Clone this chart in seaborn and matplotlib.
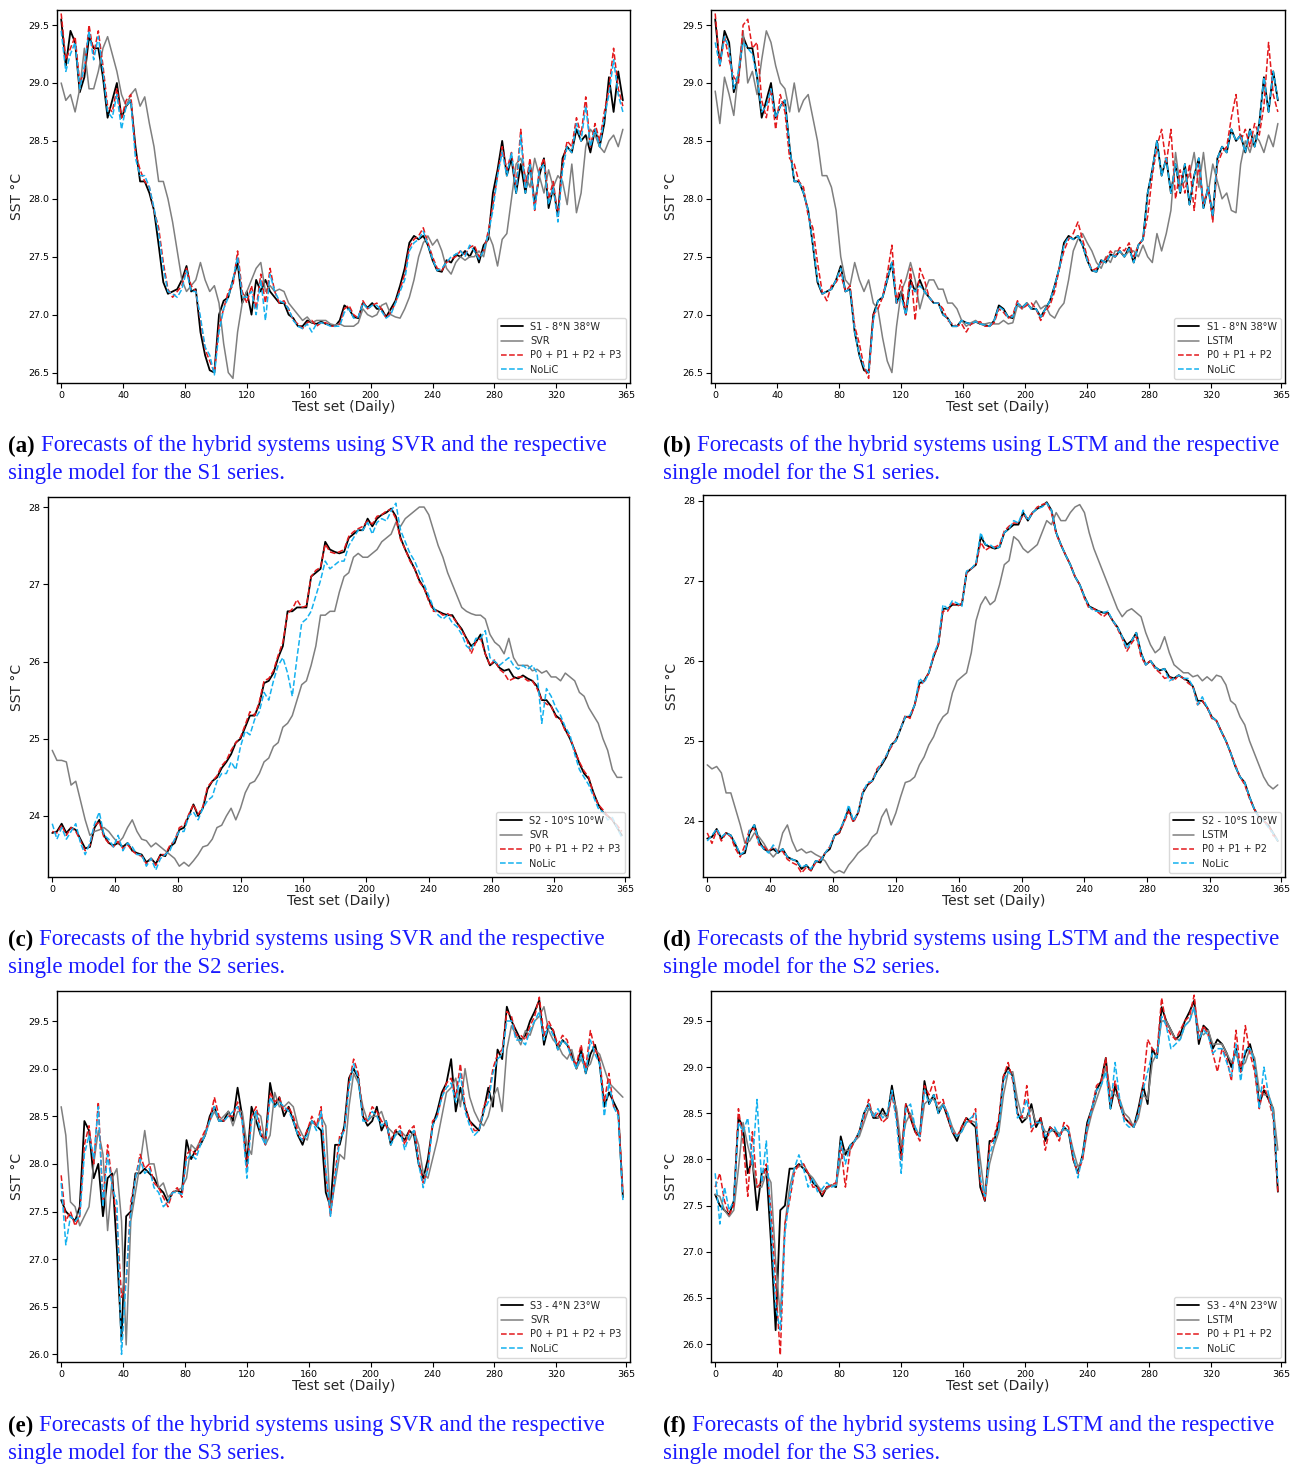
import numpy as np
import matplotlib
matplotlib.use("Agg")
import matplotlib.pyplot as plt
import seaborn as sns

# ---------------- data (daily SST, sampled every 3 days of the test year) ----------------
DAYS = np.arange(0, 366, 3)
XTICKS = [0, 40, 80, 120, 160, 200, 240, 280, 320, 365]

# S1 - 8N 38W
S1_OBS = [29.55, 29.15, 29.45, 29.35, 28.92, 29.05, 29.4, 29.3, 29.3, 29.05,
          28.7, 28.85, 29.0, 28.7, 28.8, 28.85, 28.45, 28.15, 28.15, 28.05,
          27.9, 27.6, 27.28, 27.18, 27.2, 27.22, 27.3, 27.42, 27.2, 27.22,
          26.85, 26.65, 26.52, 26.5, 27.0, 27.12, 27.15, 27.3, 27.45, 27.1,
          27.2, 27.0, 27.3, 27.2, 27.3, 27.2, 27.15, 27.1, 27.1, 27.0,
          26.97, 26.9, 26.9, 26.95, 26.93, 26.92, 26.94, 26.92, 26.91, 26.9,
          26.95, 27.08, 27.05, 26.98, 26.97, 27.1, 27.06, 27.1, 27.05, 27.05,
          26.98, 27.05, 27.12, 27.25, 27.4, 27.62, 27.68, 27.65, 27.68, 27.6,
          27.47, 27.38, 27.37, 27.47, 27.45, 27.52, 27.5, 27.55, 27.5, 27.58,
          27.45, 27.6, 27.65, 28.05, 28.25, 28.5, 28.2, 28.35, 28.05, 28.3,
          28.05, 28.3, 27.95, 28.2, 28.35, 27.92, 28.1, 27.85, 28.35, 28.45,
          28.4, 28.6, 28.5, 28.55, 28.4, 28.6, 28.45, 28.65, 29.05, 28.75,
          29.1, 28.85]
S1_SVR = [29.0, 28.85, 28.9, 28.75, 28.95, 29.3, 28.95, 28.95, 29.1, 29.3,
          29.4, 29.25, 29.1, 28.9, 28.8, 28.9, 28.95, 28.8, 28.88, 28.65,
          28.45, 28.15, 28.15, 28.0, 27.8, 27.55, 27.3, 27.2, 27.25, 27.3,
          27.45, 27.3, 27.2, 27.25, 27.1, 26.75, 26.5, 26.45, 26.85, 27.1,
          27.2, 27.3, 27.4, 27.45, 27.2, 27.25, 27.2, 27.22, 27.2, 27.1,
          27.05, 27.0, 26.95, 26.98, 26.93, 26.95, 26.95, 26.95, 26.92, 26.91,
          26.92, 26.9, 26.9, 26.9, 26.93, 27.05, 27.0, 26.98, 27.0, 27.08,
          27.1, 27.0, 26.98, 26.97, 27.05, 27.15, 27.3, 27.5, 27.62, 27.68,
          27.6, 27.65, 27.55, 27.4, 27.35, 27.45, 27.5, 27.47, 27.5, 27.5,
          27.55, 27.5, 27.7, 27.6, 27.42, 27.65, 27.7, 28.0, 28.3, 28.35,
          28.2, 28.1, 28.35, 28.2, 28.05, 28.25, 28.1, 28.2, 28.15, 27.95,
          28.3, 27.88, 28.05, 28.45, 28.6, 28.55, 28.45, 28.4, 28.5, 28.55,
          28.45, 28.6]
S1_LSTM = [28.93, 28.65, 29.05, 28.9, 28.72, 29.1, 29.45, 29.0, 29.1, 28.9,
           29.2, 29.45, 29.35, 29.15, 29.0, 28.95, 28.75, 29.0, 28.75, 28.85,
           28.9, 28.7, 28.5, 28.2, 28.2, 28.1, 27.9, 27.5, 27.3, 27.25,
           27.45, 27.3, 27.2, 27.3, 27.1, 27.05, 26.8, 26.6, 26.5, 26.9,
           27.2, 27.3, 27.45, 27.3, 27.05, 27.2, 27.3, 27.3, 27.22, 27.22,
           27.1, 27.1, 27.05, 26.95, 26.9, 26.93, 26.95, 26.92, 26.92, 26.93,
           26.92, 26.92, 26.95, 26.92, 26.93, 27.08, 27.05, 27.1, 27.05, 27.12,
           27.05, 27.08, 27.0, 26.97, 27.05, 27.1, 27.3, 27.55, 27.65, 27.7,
           27.62, 27.55, 27.45, 27.4, 27.5, 27.45, 27.55, 27.55, 27.5, 27.55,
           27.55, 27.5, 27.6, 27.5, 27.45, 27.7, 27.55, 27.7, 27.9, 28.4,
           28.1, 28.15, 28.2, 28.4, 28.1, 28.4, 28.05, 28.3, 28.15, 28.0,
           28.05, 27.9, 27.88, 28.3, 28.5, 28.4, 28.55, 28.5, 28.4, 28.55,
           28.45, 28.65]
S1_HYB_SVR = [29.6, 29.2, 29.3, 29.4, 29.0, 29.1, 29.5, 29.25, 29.45, 29.15,
              28.8, 28.75, 28.95, 28.7, 28.85, 28.9, 28.4, 28.25, 28.15, 28.1,
              27.9, 27.75, 27.45, 27.22, 27.15, 27.2, 27.25, 27.4, 27.25, 27.2,
              26.95, 26.7, 26.6, 26.5, 26.9, 27.05, 27.2, 27.25, 27.55, 27.2,
              27.1, 27.25, 27.05, 27.35, 27.1, 27.4, 27.2, 27.1, 27.12, 27.05,
              26.95, 26.92, 26.88, 26.93, 26.95, 26.9, 26.93, 26.93, 26.9, 26.9,
              26.92, 27.05, 27.08, 27.0, 26.97, 27.12, 27.05, 27.08, 27.1, 27.05,
              26.97, 27.02, 27.1, 27.22, 27.35, 27.58, 27.65, 27.68, 27.75, 27.62,
              27.5, 27.4, 27.38, 27.45, 27.48, 27.5, 27.55, 27.52, 27.58, 27.6,
              27.5, 27.55, 27.72, 27.95, 28.2, 28.45, 28.25, 28.4, 28.1, 28.6,
              28.1, 28.35, 27.9, 28.25, 28.35, 28.0, 28.15, 27.85, 28.3, 28.5,
              28.45, 28.7, 28.55, 28.88, 28.45, 28.65, 28.5, 28.75, 28.95, 29.3,
              28.95, 28.8]
S1_NOLIC_SVR = [29.45, 29.1, 29.25, 29.35, 28.95, 29.15, 29.45, 29.2, 29.4, 29.1,
                28.75, 28.7, 28.9, 28.6, 28.8, 28.85, 28.35, 28.2, 28.2, 28.1,
                27.92, 27.7, 27.4, 27.2, 27.18, 27.15, 27.22, 27.38, 27.2, 27.2,
                26.98, 26.72, 26.65, 26.48, 26.85, 27.05, 27.15, 27.3, 27.5, 27.15,
                27.15, 27.2, 27.0, 27.3, 26.95, 27.35, 27.2, 27.12, 27.1, 27.05,
                26.95, 26.9, 26.88, 26.92, 26.85, 26.92, 26.93, 26.92, 26.9, 26.9,
                26.9, 27.02, 27.05, 26.97, 26.98, 27.1, 27.05, 27.08, 27.08, 27.03,
                26.97, 27.0, 27.1, 27.2, 27.3, 27.55, 27.62, 27.65, 27.72, 27.6,
                27.48, 27.38, 27.4, 27.45, 27.5, 27.52, 27.55, 27.5, 27.6, 27.55,
                27.48, 27.55, 27.7, 27.9, 28.2, 28.4, 28.2, 28.4, 28.05, 28.55,
                28.05, 28.3, 27.9, 28.25, 28.3, 27.95, 28.1, 27.8, 28.25, 28.45,
                28.4, 28.65, 28.5, 28.8, 28.45, 28.6, 28.45, 28.7, 28.9, 29.2,
                28.9, 28.75]
S1_HYB_LSTM = [29.6, 29.15, 29.4, 29.2, 29.05, 29.0, 29.5, 29.55, 29.3, 29.35,
               28.85, 28.7, 28.95, 28.6, 28.9, 28.75, 28.35, 28.3, 28.15, 28.1,
               27.85, 27.75, 27.45, 27.2, 27.12, 27.25, 27.28, 27.35, 27.2, 27.25,
               26.9, 26.75, 26.55, 26.45, 27.0, 27.05, 27.15, 27.35, 27.6, 27.1,
               27.3, 27.0, 27.4, 26.95, 27.4, 27.3, 27.15, 27.1, 27.1, 27.05,
               26.95, 26.92, 26.9, 26.92, 26.85, 26.92, 26.93, 26.94, 26.9, 26.9,
               26.93, 27.05, 27.02, 26.97, 27.0, 27.12, 27.05, 27.08, 27.1, 27.05,
               26.95, 27.03, 27.08, 27.2, 27.4, 27.55, 27.65, 27.7, 27.8, 27.65,
               27.5, 27.38, 27.4, 27.45, 27.48, 27.55, 27.5, 27.58, 27.55, 27.62,
               27.5, 27.6, 27.65, 27.85, 28.2, 28.45, 28.6, 28.3, 28.6, 28.0,
               28.25, 28.05, 28.3, 27.9, 28.3, 27.95, 28.1, 27.8, 28.3, 28.4,
               28.45, 28.7, 28.9, 28.5, 28.6, 28.45, 28.65, 28.55, 28.8, 29.35,
               28.9, 28.75]
S1_NOLIC_LSTM = [29.35, 29.15, 29.4, 29.3, 28.95, 29.1, 29.35, 29.3, 29.25, 29.05,
                 28.75, 28.8, 28.95, 28.7, 28.8, 28.85, 28.45, 28.15, 28.15, 28.05,
                 27.9, 27.6, 27.3, 27.18, 27.2, 27.22, 27.3, 27.4, 27.2, 27.22,
                 26.85, 26.65, 26.55, 26.5, 26.95, 27.12, 27.15, 27.3, 27.45, 27.1,
                 27.15, 27.0, 27.25, 27.2, 27.25, 27.2, 27.15, 27.1, 27.1, 27.0,
                 26.97, 26.9, 26.9, 26.95, 26.93, 26.92, 26.94, 26.92, 26.91, 26.9,
                 26.95, 27.07, 27.04, 26.98, 26.98, 27.1, 27.06, 27.1, 27.05, 27.05,
                 26.98, 27.05, 27.12, 27.25, 27.4, 27.6, 27.67, 27.65, 27.68, 27.6,
                 27.47, 27.38, 27.37, 27.47, 27.45, 27.52, 27.5, 27.55, 27.5, 27.57,
                 27.45, 27.6, 27.65, 28.05, 28.25, 28.5, 28.2, 28.35, 28.05, 28.3,
                 28.05, 28.3, 27.95, 28.2, 28.35, 27.92, 28.1, 27.85, 28.35, 28.45,
                 28.4, 28.6, 28.5, 28.55, 28.4, 28.6, 28.45, 28.65, 29.05, 28.75,
                 29.1, 28.85]

# S2 - 10S 10W
S2_OBS = [23.78, 23.8, 23.9, 23.78, 23.85, 23.82, 23.7, 23.58, 23.6, 23.85,
          23.95, 23.75, 23.65, 23.62, 23.65, 23.6, 23.65, 23.55, 23.52, 23.5,
          23.4, 23.45, 23.38, 23.5, 23.48, 23.6, 23.65, 23.82, 23.85, 24.0,
          24.15, 24.0, 24.1, 24.35, 24.45, 24.5, 24.62, 24.7, 24.8, 24.95,
          25.0, 25.15, 25.3, 25.3, 25.45, 25.72, 25.75, 25.85, 26.05, 26.2,
          26.65, 26.65, 26.7, 26.7, 26.7, 27.1, 27.15, 27.2, 27.55, 27.45,
          27.42, 27.4, 27.42, 27.6, 27.65, 27.7, 27.7, 27.85, 27.75, 27.85,
          27.9, 27.93, 27.98, 27.88, 27.6, 27.45, 27.32, 27.2, 27.05, 26.95,
          26.8, 26.68, 26.65, 26.62, 26.6, 26.6, 26.5, 26.42, 26.3, 26.2,
          26.25, 26.35, 26.1, 25.95, 26.0, 25.92, 25.88, 25.9, 25.8, 25.78,
          25.82, 25.78, 25.75, 25.68, 25.5, 25.5, 25.42, 25.3, 25.25, 25.12,
          25.0, 24.85, 24.68, 24.55, 24.48, 24.3, 24.15, 24.05, 24.0, 23.95,
          23.85, 23.75]
S2_SVR = [24.85, 24.72, 24.72, 24.7, 24.4, 24.45, 24.2, 23.95, 23.75, 23.8,
          23.82, 23.85, 23.8, 23.72, 23.65, 23.72, 23.85, 23.95, 23.8, 23.7,
          23.68, 23.6, 23.65, 23.6, 23.55, 23.5, 23.45, 23.35, 23.4, 23.35,
          23.42, 23.5, 23.6, 23.62, 23.7, 23.85, 23.88, 24.0, 24.1, 23.95,
          24.1, 24.3, 24.42, 24.45, 24.55, 24.7, 24.75, 24.9, 24.95, 25.15,
          25.2, 25.3, 25.5, 25.7, 25.75, 25.95, 26.2, 26.6, 26.6, 26.65,
          26.65, 26.9, 27.1, 27.15, 27.35, 27.4, 27.35, 27.35, 27.4, 27.45,
          27.55, 27.6, 27.65, 27.8, 27.75, 27.85, 27.9, 27.95, 28.0, 28.0,
          27.9, 27.7, 27.5, 27.35, 27.15, 27.0, 26.85, 26.7, 26.65, 26.62,
          26.6, 26.6, 26.55, 26.35, 26.25, 26.2, 26.1, 26.3, 26.05, 25.95,
          25.95, 25.95, 25.88, 25.9, 25.85, 25.88, 25.8, 25.8, 25.75, 25.85,
          25.8, 25.75, 25.6, 25.55, 25.4, 25.3, 25.2, 25.0, 24.85, 24.6,
          24.5, 24.5]
S2_LSTM = [24.7, 24.65, 24.68, 24.6, 24.35, 24.35, 24.15, 23.95, 23.72, 23.75,
           23.85, 23.8, 23.72, 23.62, 23.55, 23.62, 23.85, 23.95, 23.75, 23.62,
           23.65, 23.6, 23.62, 23.58, 23.55, 23.5, 23.4, 23.35, 23.38, 23.35,
           23.45, 23.52, 23.6, 23.65, 23.7, 23.8, 23.85, 24.05, 24.15, 23.95,
           24.1, 24.3, 24.48, 24.5, 24.55, 24.7, 24.8, 24.95, 25.05, 25.2,
           25.3, 25.35, 25.6, 25.75, 25.8, 25.85, 26.1, 26.5, 26.7, 26.8,
           26.7, 26.75, 26.95, 27.2, 27.25, 27.55, 27.5, 27.4, 27.35, 27.4,
           27.45, 27.6, 27.75, 27.7, 27.85, 27.75, 27.75, 27.85, 27.92, 27.95,
           27.85, 27.6, 27.4, 27.25, 27.1, 26.95, 26.8, 26.65, 26.55, 26.62,
           26.65, 26.6, 26.55, 26.35, 26.2, 26.1, 26.15, 26.3, 26.1, 25.95,
           25.9, 25.85, 25.85, 25.8, 25.82, 25.75, 25.8, 25.75, 25.82, 25.8,
           25.7, 25.5, 25.45, 25.3, 25.2, 25.0, 24.85, 24.7, 24.55, 24.45,
           24.4, 24.45]
S2_HYB_SVR = [23.8, 23.78, 23.88, 23.75, 23.85, 23.8, 23.68, 23.55, 23.62, 23.88,
              23.92, 23.72, 23.65, 23.6, 23.67, 23.58, 23.63, 23.55, 23.5, 23.48,
              23.38, 23.45, 23.36, 23.5, 23.5, 23.62, 23.68, 23.85, 23.88, 24.02,
              24.15, 24.02, 24.12, 24.38, 24.45, 24.52, 24.65, 24.72, 24.85, 24.95,
              25.02, 25.18, 25.35, 25.3, 25.48, 25.75, 25.78, 25.88, 26.08, 26.25,
              26.62, 26.68, 26.8, 26.7, 26.72, 27.1, 27.18, 27.22, 27.52, 27.42,
              27.4, 27.42, 27.45, 27.62, 27.68, 27.72, 27.75, 27.82, 27.78, 27.88,
              27.9, 27.95, 27.97, 27.85, 27.58, 27.45, 27.3, 27.2, 27.03, 26.95,
              26.78, 26.65, 26.65, 26.6, 26.62, 26.58, 26.5, 26.4, 26.3, 26.1,
              26.25, 26.3, 26.1, 25.95, 26.02, 25.9, 25.85, 25.75, 25.78, 25.8,
              25.8, 25.75, 25.75, 25.65, 25.5, 25.45, 25.42, 25.28, 25.25, 25.1,
              25.02, 24.85, 24.7, 24.58, 24.5, 24.28, 24.15, 24.08, 24.0, 23.95,
              23.88, 23.8]
S2_NOLIC_SVR = [23.9, 23.7, 23.85, 23.7, 23.8, 23.9, 23.65, 23.5, 23.65, 23.9,
                24.05, 23.75, 23.7, 23.6, 23.75, 23.55, 23.65, 23.6, 23.5, 23.5,
                23.35, 23.45, 23.3, 23.45, 23.5, 23.55, 23.7, 23.8, 23.8, 24.0,
                24.05, 23.95, 24.1, 24.2, 24.25, 24.45, 24.55, 24.55, 24.7, 24.6,
                24.9, 25.1, 25.05, 25.25, 25.35, 25.6, 25.5, 25.75, 25.95, 26.05,
                25.85, 25.55, 26.05, 26.5, 26.55, 26.65, 26.85, 27.05, 27.3, 27.2,
                27.25, 27.3, 27.3, 27.5, 27.6, 27.7, 27.7, 27.8, 27.65, 27.8,
                27.85, 27.82, 27.95, 28.05, 27.7, 27.55, 27.4, 27.3, 27.15, 27.0,
                26.85, 26.7, 26.6, 26.55, 26.6, 26.5, 26.45, 26.35, 26.2, 26.15,
                26.3, 26.3, 26.4, 26.05, 26.0, 25.95, 26.0, 26.05, 25.95, 25.9,
                25.95, 25.9, 25.95, 25.85, 25.2, 25.65, 25.55, 25.4, 25.3, 25.15,
                25.05, 24.8, 24.6, 24.5, 24.4, 24.25, 24.1, 24.05, 23.95, 23.98,
                23.85, 23.72]
S2_HYB_LSTM = [23.85, 23.72, 23.88, 23.75, 23.85, 23.8, 23.65, 23.55, 23.7, 23.9,
               23.9, 23.7, 23.68, 23.62, 23.68, 23.62, 23.62, 23.52, 23.48, 23.45,
               23.35, 23.42, 23.38, 23.48, 23.52, 23.6, 23.68, 23.82, 23.85, 23.98,
               24.12, 23.98, 24.1, 24.38, 24.45, 24.5, 24.65, 24.72, 24.82, 24.92,
               25.02, 25.15, 25.32, 25.28, 25.45, 25.68, 25.75, 25.85, 26.05, 26.2,
               26.62, 26.62, 26.72, 26.68, 26.72, 27.1, 27.15, 27.2, 27.48, 27.38,
               27.42, 27.42, 27.45, 27.62, 27.68, 27.72, 27.72, 27.82, 27.78, 27.85,
               27.92, 27.95, 27.97, 27.85, 27.58, 27.45, 27.32, 27.2, 27.05, 26.95,
               26.78, 26.65, 26.65, 26.6, 26.55, 26.6, 26.5, 26.4, 26.28, 26.12,
               26.22, 26.3, 26.05, 25.95, 26.0, 25.9, 25.85, 25.78, 25.8, 25.75,
               25.82, 25.78, 25.72, 25.68, 25.45, 25.5, 25.42, 25.28, 25.25, 25.12,
               25.0, 24.85, 24.7, 24.55, 24.45, 24.28, 24.15, 24.05, 24.0, 23.95,
               23.82, 23.78]
S2_NOLIC_LSTM = [23.75, 23.82, 23.9, 23.8, 23.85, 23.82, 23.72, 23.58, 23.62, 23.88,
                 23.95, 23.72, 23.65, 23.6, 23.7, 23.6, 23.65, 23.55, 23.52, 23.5,
                 23.42, 23.45, 23.4, 23.5, 23.5, 23.6, 23.68, 23.82, 23.88, 24.0,
                 24.2, 24.0, 24.12, 24.35, 24.48, 24.5, 24.62, 24.72, 24.82, 24.95,
                 25.0, 25.15, 25.3, 25.32, 25.45, 25.78, 25.72, 25.85, 26.08, 26.22,
                 26.7, 26.65, 26.75, 26.72, 26.68, 27.12, 27.15, 27.22, 27.6, 27.45,
                 27.45, 27.4, 27.42, 27.6, 27.65, 27.75, 27.72, 27.88, 27.75, 27.85,
                 27.9, 27.92, 27.97, 27.88, 27.6, 27.45, 27.32, 27.2, 27.05, 26.95,
                 26.8, 26.68, 26.62, 26.62, 26.6, 26.62, 26.5, 26.42, 26.3, 26.15,
                 26.25, 26.35, 26.1, 25.95, 26.0, 25.92, 25.88, 25.9, 25.75, 25.78,
                 25.82, 25.78, 25.78, 25.68, 25.45, 25.55, 25.42, 25.3, 25.25, 25.12,
                 25.0, 24.85, 24.68, 24.55, 24.48, 24.3, 24.15, 24.05, 24.0, 23.92,
                 23.85, 23.75]

# S3 - 4N 23W
S3_OBS = [27.62, 27.5, 27.45, 27.4, 27.55, 28.45, 28.35, 27.85, 28.0, 27.45,
          27.85, 27.9, 27.1, 26.15, 27.45, 27.5, 27.9, 27.9, 27.95, 27.9,
          27.85, 27.75, 27.7, 27.6, 27.7, 27.72, 27.7, 28.25, 28.05, 28.15,
          28.2, 28.3, 28.5, 28.6, 28.45, 28.45, 28.55, 28.45, 28.8, 28.5,
          28.0, 28.6, 28.45, 28.3, 28.25, 28.85, 28.6, 28.7, 28.5, 28.6,
          28.45, 28.3, 28.2, 28.35, 28.45, 28.4, 28.35, 27.7, 27.55, 28.2,
          28.2, 28.4, 28.9, 29.0, 28.9, 28.5, 28.4, 28.45, 28.6, 28.35,
          28.45, 28.2, 28.35, 28.3, 28.25, 28.35, 28.3, 28.0, 27.85, 28.05,
          28.4, 28.55, 28.75, 28.85, 29.1, 28.55, 28.8, 28.6, 28.45, 28.4,
          28.35, 28.55, 28.8, 28.6, 29.2, 29.1, 29.65, 29.5, 29.4, 29.3,
          29.35, 29.5, 29.6, 29.72, 29.25, 29.45, 29.4, 29.2, 29.3, 29.25,
          29.15, 29.0, 29.2, 28.95, 29.15, 29.25, 29.05, 28.6, 28.75, 28.65,
          28.55, 27.65]
S3_SVR = [28.6, 28.3, 27.6, 27.55, 27.35, 27.45, 27.55, 28.0, 28.35, 28.1,
          27.3, 27.85, 27.95, 27.4, 26.1, 27.4, 27.7, 28.0, 28.35, 28.0,
          28.0, 27.75, 27.8, 27.65, 27.7, 27.72, 27.75, 27.85, 28.2, 28.15,
          28.25, 28.3, 28.45, 28.55, 28.45, 28.5, 28.55, 28.4, 28.55, 28.55,
          28.2, 28.1, 28.55, 28.5, 28.2, 28.3, 28.75, 28.6, 28.6, 28.65,
          28.6, 28.4, 28.3, 28.25, 28.45, 28.4, 28.5, 28.4, 27.5, 27.8,
          28.1, 28.05, 28.6, 28.95, 28.85, 28.6, 28.45, 28.5, 28.5, 28.55,
          28.4, 28.35, 28.3, 28.35, 28.3, 28.25, 28.35, 28.2, 27.9, 27.85,
          28.05, 28.25, 28.5, 28.75, 28.8, 28.9, 28.6, 29.0, 28.7, 28.55,
          28.45, 28.4, 28.5, 28.7, 28.8, 28.55, 29.2, 29.45, 29.35, 29.25,
          29.4, 29.35, 29.5, 29.55, 29.65, 29.4, 29.3, 29.25, 29.15, 29.1,
          29.2, 29.0, 29.1, 29.0, 29.05, 29.2, 29.15, 29.0, 28.85, 28.8,
          28.75, 28.7]
S3_LSTM = [27.62, 27.6, 27.45, 27.38, 27.45, 27.9, 28.4, 28.15, 27.95, 27.7,
           27.7, 27.85, 27.75, 26.9, 26.3, 27.3, 27.7, 27.9, 27.92, 27.95,
           27.85, 27.8, 27.72, 27.65, 27.68, 27.72, 27.72, 28.0, 28.1, 28.1,
           28.2, 28.25, 28.4, 28.55, 28.5, 28.45, 28.5, 28.45, 28.7, 28.55,
           28.15, 28.4, 28.5, 28.35, 28.25, 28.6, 28.65, 28.65, 28.55, 28.6,
           28.5, 28.35, 28.25, 28.3, 28.4, 28.42, 28.4, 28.0, 27.6, 27.95,
           28.15, 28.3, 28.7, 28.95, 28.95, 28.65, 28.45, 28.45, 28.55, 28.4,
           28.4, 28.3, 28.3, 28.32, 28.28, 28.32, 28.32, 28.1, 27.92, 28.0,
           28.3, 28.5, 28.65, 28.8, 29.0, 28.75, 28.7, 28.65, 28.5, 28.45,
           28.35, 28.45, 28.7, 28.65, 29.05, 29.15, 29.5, 29.5, 29.4, 29.3,
           29.3, 29.45, 29.5, 29.65, 29.4, 29.35, 29.4, 29.25, 29.25, 29.25,
           29.15, 29.05, 29.15, 29.0, 29.05, 29.2, 29.1, 28.75, 28.7, 28.7,
           28.55, 28.1]
S3_HYB_SVR = [27.88, 27.4, 27.5, 27.35, 27.45, 28.2, 28.4, 28.0, 28.65, 27.6,
              28.2, 27.8, 27.4, 26.6, 26.75, 27.6, 27.85, 28.1, 27.95, 28.0,
              27.8, 27.75, 27.65, 27.55, 27.7, 27.75, 27.65, 28.1, 28.15, 28.1,
              28.25, 28.35, 28.45, 28.7, 28.5, 28.45, 28.5, 28.5, 28.65, 28.45,
              27.95, 28.5, 28.6, 28.35, 28.2, 28.75, 28.65, 28.7, 28.55, 28.6,
              28.5, 28.35, 28.25, 28.35, 28.5, 28.4, 28.6, 27.9, 27.45, 27.9,
              28.3, 28.35, 28.85, 29.1, 28.95, 28.5, 28.45, 28.6, 28.55, 28.45,
              28.4, 28.25, 28.35, 28.4, 28.2, 28.35, 28.4, 28.05, 27.8, 27.95,
              28.45, 28.5, 28.7, 28.85, 28.9, 28.7, 29.05, 28.6, 28.45, 28.35,
              28.35, 28.6, 28.7, 29.0, 29.15, 29.2, 29.6, 29.55, 29.35, 29.35,
              29.3, 29.45, 29.55, 29.75, 29.35, 29.5, 29.4, 29.25, 29.35, 29.3,
              29.1, 29.05, 29.25, 29.0, 29.4, 29.2, 29.1, 28.65, 28.95, 28.6,
              28.55, 27.7]
S3_NOLIC_SVR = [27.8, 27.15, 27.45, 27.4, 27.45, 28.1, 28.3, 28.05, 28.6, 27.55,
                28.1, 27.75, 27.6, 26.0, 26.8, 27.5, 27.85, 28.05, 27.9, 27.95,
                27.75, 27.7, 27.55, 27.6, 27.7, 27.7, 27.68, 28.05, 28.1, 28.05,
                28.2, 28.3, 28.45, 28.6, 28.45, 28.45, 28.5, 28.55, 28.6, 28.45,
                27.85, 28.45, 28.55, 28.3, 28.2, 28.7, 28.6, 28.65, 28.6, 28.55,
                28.45, 28.3, 28.25, 28.3, 28.45, 28.35, 28.55, 27.95, 27.45, 27.85,
                28.25, 28.35, 28.8, 29.05, 28.9, 28.45, 28.45, 28.55, 28.5, 28.4,
                28.45, 28.2, 28.3, 28.35, 28.15, 28.3, 28.35, 28.0, 27.75, 27.95,
                28.4, 28.5, 28.7, 28.8, 28.85, 28.65, 28.95, 28.55, 28.4, 28.3,
                28.35, 28.55, 28.65, 28.95, 29.1, 29.15, 29.5, 29.5, 29.3, 29.3,
                29.25, 29.4, 29.5, 29.6, 29.3, 29.45, 29.35, 29.2, 29.3, 29.25,
                29.1, 29.0, 29.15, 28.95, 29.3, 29.15, 29.05, 28.5, 28.85, 28.6,
                28.5, 27.62]
S3_HYB_LSTM = [27.7, 27.85, 27.55, 27.4, 27.5, 28.55, 28.2, 27.6, 28.3, 27.7,
               27.75, 27.95, 27.45, 26.65, 25.88, 27.3, 27.55, 27.85, 27.95, 27.95,
               27.85, 27.7, 27.7, 27.62, 27.7, 27.72, 27.75, 28.15, 27.7, 28.1,
               28.2, 28.3, 28.45, 28.65, 28.45, 28.5, 28.4, 28.45, 28.7, 28.45,
               28.0, 28.6, 28.45, 28.3, 28.2, 28.8, 28.7, 28.85, 28.6, 28.65,
               28.45, 28.3, 28.25, 28.35, 28.45, 28.4, 28.55, 27.75, 27.55, 28.15,
               28.25, 28.45, 28.9, 29.05, 28.85, 28.5, 28.45, 28.8, 28.3, 28.4,
               28.45, 28.1, 28.35, 28.3, 28.2, 28.4, 28.35, 28.0, 27.85, 28.0,
               28.35, 28.55, 28.8, 28.85, 29.1, 28.6, 28.85, 28.6, 28.45, 28.4,
               28.35, 28.5, 28.8, 29.3, 29.2, 29.15, 29.75, 29.45, 29.35, 29.3,
               29.4, 29.5, 29.55, 29.78, 29.3, 29.45, 29.35, 29.15, 28.95, 29.2,
               29.1, 28.85, 29.4, 28.95, 29.45, 29.15, 28.95, 28.55, 28.8, 28.65,
               28.45, 27.65]
S3_NOLIC_LSTM = [27.85, 27.3, 27.7, 27.45, 27.55, 28.4, 28.3, 28.45, 27.95, 28.65,
                 27.75, 28.2, 27.3, 26.4, 26.15, 27.2, 27.6, 27.9, 28.05, 27.9,
                 27.7, 27.8, 27.65, 27.68, 27.75, 27.7, 27.72, 28.2, 27.95, 28.15,
                 28.2, 28.3, 28.5, 28.6, 28.45, 28.55, 28.45, 28.5, 28.75, 28.4,
                 27.85, 28.55, 28.6, 28.35, 28.25, 28.75, 28.6, 28.7, 28.5, 28.6,
                 28.5, 28.3, 28.25, 28.3, 28.4, 28.45, 28.5, 27.8, 27.6, 28.05,
                 28.2, 28.35, 28.85, 28.95, 28.9, 28.45, 28.5, 28.65, 28.35, 28.4,
                 28.4, 28.25, 28.3, 28.35, 28.25, 28.35, 28.3, 28.05, 27.8, 28.05,
                 28.35, 28.55, 28.75, 28.8, 28.95, 28.55, 29.05, 28.65, 28.4, 28.35,
                 28.35, 28.5, 28.75, 28.95, 29.15, 29.1, 29.55, 29.45, 29.2, 29.25,
                 29.3, 29.45, 29.5, 29.65, 29.3, 29.4, 29.35, 29.15, 29.2, 29.2,
                 29.05, 28.9, 29.25, 28.85, 29.2, 29.2, 29.05, 28.55, 29.0, 28.7,
                 28.5, 27.75]

STATIONS = {
    "S1": {"label": "S1 - 8°N 38°W", "obs": S1_OBS,
           "SVR": (S1_SVR, S1_HYB_SVR, S1_NOLIC_SVR),
           "LSTM": (S1_LSTM, S1_HYB_LSTM, S1_NOLIC_LSTM)},
    "S2": {"label": "S2 - 10°S 10°W", "obs": S2_OBS,
           "SVR": (S2_SVR, S2_HYB_SVR, S2_NOLIC_SVR),
           "LSTM": (S2_LSTM, S2_HYB_LSTM, S2_NOLIC_LSTM)},
    "S3": {"label": "S3 - 4°N 23°W", "obs": S3_OBS,
           "SVR": (S3_SVR, S3_HYB_SVR, S3_NOLIC_SVR),
           "LSTM": (S3_LSTM, S3_HYB_LSTM, S3_NOLIC_LSTM)},
}
HYBRID_NAME = {"SVR": "P0 + P1 + P2 + P3", "LSTM": "P0 + P1 + P2"}
NOLIC_NAME = {"S1": "NoLiC", "S2": "NoLic", "S3": "NoLiC"}

for st in STATIONS.values():
    for arr in [st["obs"], *st["SVR"], *st["LSTM"]]:
        assert len(arr) == len(DAYS), len(arr)

# ---------------- figure layout ----------------
W, H = 1301, 1466
PANELS = [
    # letter, station, model, (left, top, right, bottom) px, ylim, caption anchor (x, y) px
    ("a", "S1", "SVR", (57, 10, 630, 383), (26.41, 29.63), (8, 446)),
    ("b", "S1", "LSTM", (711, 10, 1285, 383), (26.41, 29.63), (663, 446)),
    ("c", "S2", "SVR", (48, 497, 629, 877), (23.21, 28.13), (8, 940)),
    ("d", "S2", "LSTM", (703, 495, 1285, 877), (23.30, 28.07), (663, 940)),
    ("e", "S3", "SVR", (57, 991, 630, 1362), (25.92, 29.815), (8, 1426)),
    ("f", "S3", "LSTM", (711, 991, 1285, 1362), (25.805, 29.825), (663, 1426)),
]

sns.set_style("ticks")
plt.rcParams.update({
    "font.family": ["DejaVu Sans"],
    "axes.linewidth": 1.0,
    "xtick.major.size": 3.5, "ytick.major.size": 3.5,
    "xtick.major.width": 0.8, "ytick.major.width": 0.8,
    "xtick.direction": "out", "ytick.direction": "out",
    "axes.edgecolor": "black",
    "xtick.color": "black", "ytick.color": "black",
})

fig = plt.figure(figsize=(W / 100, H / 100), dpi=100)
fig.patch.set_facecolor("white")

COL_OBS, COL_SINGLE, COL_HYB, COL_NOLIC = "black", "#7f7f7f", "#e3191c", "#14b1ef"

for letter, sid, model, (l, t, r, b), ylim, _ in PANELS:
    st = STATIONS[sid]
    single, hyb, nolic = st[model]
    ax = fig.add_axes([l / W, 1 - b / H, (r - l) / W, (b - t) / H])
    sns.lineplot(x=DAYS, y=st["obs"], ax=ax, color=COL_OBS, lw=1.3, label=st["label"])
    sns.lineplot(x=DAYS, y=single, ax=ax, color=COL_SINGLE, lw=1.1, label=model)
    sns.lineplot(x=DAYS, y=hyb, ax=ax, color=COL_HYB, lw=1.1, linestyle="--",
                 label=HYBRID_NAME[model])
    sns.lineplot(x=DAYS, y=nolic, ax=ax, color=COL_NOLIC, lw=1.1, linestyle="--",
                 label=NOLIC_NAME[sid])
    ax.set_xlim(-2.7, 367.6)
    ax.set_ylim(*ylim)
    ax.set_xticks(XTICKS)
    ax.set_xticklabels([str(v) for v in XTICKS])
    ax.tick_params(labelsize=6.8, pad=2)
    ax.set_xlabel("Test set (Daily)", fontsize=10, labelpad=0)
    ax.set_ylabel("SST °C", fontsize=10, labelpad=3)
    for sp in ax.spines.values():
        sp.set_visible(True)
    ax.legend(loc="lower right", fontsize=7, handlelength=2.2,
              borderaxespad=0.45, labelspacing=0.45, framealpha=0.8,
              fancybox=True, edgecolor="#d0d0d0")

# ---------------- captions ----------------
CAPTIONS = {
    "a": ("SVR", "S1"), "b": ("LSTM", "S1"), "c": ("SVR", "S2"),
    "d": ("LSTM", "S2"), "e": ("SVR", "S3"), "f": ("LSTM", "S3"),
}
fig.canvas.draw()
renderer = fig.canvas.get_renderer()
cap_font = dict(family=["Liberation Serif", "DejaVu Serif"], fontsize=16.5)
for letter, sid, model, _, _, (cx, cy) in PANELS:
    m, s = CAPTIONS[letter]
    tag = fig.text(cx / W, 1 - cy / H, f"({letter})", ha="left", va="center",
                   fontweight="bold", color="black", **cap_font)
    bb = tag.get_window_extent(renderer)
    fig.text((bb.x1 + 6) / W, 1 - cy / H,
             f"Forecasts of the hybrid systems using {m} and the respective",
             ha="left", va="center", color="#1a1aff", **cap_font)
    fig.text(cx / W, 1 - (cy + 28) / H, f"single model for the {s} series.",
             ha="left", va="center", color="#1a1aff", **cap_font)

fig.savefig("out.png", dpi=100, facecolor="white")
